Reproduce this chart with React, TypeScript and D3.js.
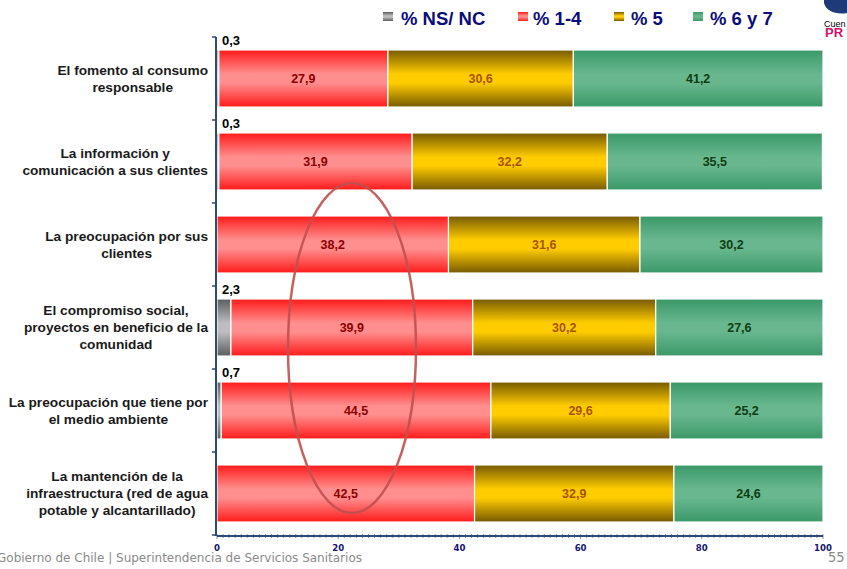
import React from "react";
import * as d3 from "d3";

const categories = [
  ["El fomento al consumo", "responsable"],
  ["La información y", "comunicación a sus clientes"],
  ["La preocupación por sus", "clientes"],
  ["El compromiso social,", "proyectos en beneficio de la", "comunidad"],
  ["La preocupación que tiene por", "el medio ambiente"],
  ["La mantención de la", "infraestructura (red de agua", "potable y alcantarillado)"],
];
const nsnc = [0.3, 0.3, 0, 2.3, 0.7, 0];
const r14 = [27.9, 31.9, 38.2, 39.9, 44.5, 42.5];
const r5 = [30.6, 32.2, 31.6, 30.2, 29.6, 32.9];
const r67 = [41.2, 35.5, 30.2, 27.6, 25.2, 24.6];
const xTicks = [0, 20, 40, 60, 80, 100];
const legendLabels = ["% NS/ NC", "% 1-4", "% 5", "% 6 y 7"];

const keys = ["ns", "a", "b", "c"];
const grads = [
  { id: "gGray", edge: "#5c5c5c", mid: "#bdbdbd" },
  { id: "gRed", edge: "#ff1a1a", mid: "#ff8e8e" },
  { id: "gYel", edge: "#765a00", mid: "#ffcc00" },
  { id: "gGrn", edge: "#3a9868", mid: "#68b78e" },
];
const labelColors = ["#000", "#8b0000", "#a85400", "#0f3d14"];

const fmt = (v: number) => v.toFixed(1).replace(".", ",");

const CAT_FONT = "bold 13.7px 'Liberation Sans', Arial, sans-serif";
function measure(s: string): number {
  try {
    const c = document.createElement("canvas").getContext("2d");
    if (c) {
      c.font = CAT_FONT;
      return c.measureText(s).width;
    }
  } catch (e) {}
  return s.length * 7.2;
}

export default function App() {
  const W = 847, H = 569;
  const ids = categories.map((_, i) => "c" + i);
  const axisY = 536;
  const x = d3.scaleLinear().domain([0, 100]).range([217, 823]);
  const y = d3.scaleBand<string>().domain(ids).range([37, 535]).paddingInner(0.313).paddingOuter(0.1565);
  const rows = ids.map((id, i) => ({ id, ns: nsnc[i], a: r14[i], b: r5[i], c: r67[i] }));
  const stacked = d3.stack<any>().keys(keys)(rows);
  const minor = d3.range(0, 101, 1);

  return (
    <div style={{ position: "absolute", left: 0, top: 0 }}>
      <svg width={W} height={H} style={{ display: "block", fontFamily: "'Liberation Sans', Arial, sans-serif" }}>
        <defs>
          {grads.map((g) => (
            <linearGradient key={g.id} id={g.id} x1="0" y1="0" x2="0" y2="1">
              <stop offset="0" stopColor={g.edge} />
              <stop offset="0.42" stopColor={g.mid} />
              <stop offset="0.58" stopColor={g.mid} />
              <stop offset="1" stopColor={g.edge} />
            </linearGradient>
          ))}
        </defs>
        <rect width={W} height={H} fill="#fff" />

        {/* Legend */}
        {(() => {
          const sq = [383, 518, 614, 693];
          const tx = [401, 533, 631, 710];
          return legendLabels.map((l, i) => (
            <g key={l}>
              <rect x={sq[i]} y={12} width={10} height={9} fill={`url(#${grads[i].id})`} />
              <text x={tx[i]} y={25} fontSize={18.5} fontWeight="bold" fill="#0c0c7a">{l}</text>
            </g>
          ));
        })()}

        {/* Logo fragment */}
        <path d="M824,0 L847,0 L847,13 C836,15 826,11 824,3 Z" fill="#1f3a78" />
        <text x={824} y={27} fontSize={9} fill="#000">Cuen</text>
        <text x={825} y={37} fontSize={13} fontWeight="bold" fill="#d0106a">PR</text>

        {/* Bars */}
        {stacked.map((s, si) => (
          <g key={s.key}>
            {s.map((d: any, i: number) => {
              const v = d[1] - d[0];
              if (v <= 0) return null;
              const id = ids[i];
              const x0 = x(d[0]), x1 = x(d[1]);
              return (
                <rect key={id} x={x0} y={y(id)!} width={Math.max(0, x1 - x0)} height={y.bandwidth()}
                  fill={`url(#${grads[si].id})`} stroke="#fff" strokeWidth={1.2} />
              );
            })}
          </g>
        ))}

        {/* Segment labels */}
        {stacked.map((s, si) => (
          <g key={"l" + s.key}>
            {s.map((d: any, i: number) => {
              const v = d[1] - d[0];
              if (v <= 0) return null;
              const id = ids[i];
              if (si === 0) {
                return (
                  <text key={id} x={222} y={y(id)! - 5} fontSize={13} fontWeight="bold" fill="#000">{fmt(v)}</text>
                );
              }
              return (
                <text key={id} x={(x(d[0]) + x(d[1])) / 2} y={y(id)! + y.bandwidth() / 2 + 4.5}
                  textAnchor="middle" fontSize={12.5} fontWeight="bold" fill={labelColors[si]}>{fmt(v)}</text>
              );
            })}
          </g>
        ))}

        {/* Category labels */}
        {categories.map((lines, i) => {
          const cy = y(ids[i])! + y.bandwidth() / 2;
          const lh = 17;
          const start = cy - ((lines.length - 1) * lh) / 2 + 4.5;
          const maxW = Math.max(...lines.map(measure));
          const cx = 208 - maxW / 2;
          return (
            <text key={i} textAnchor="middle" fontSize={13.7} fontWeight="bold" fill="#1a1a1a">
              {lines.map((ln, j) => (
                <tspan key={j} x={cx} y={start + j * lh}>{ln}</tspan>
              ))}
            </text>
          );
        })}

        {/* Left axis */}
        <line x1={216} x2={216} y1={37} y2={axisY} stroke="#2a4a78" strokeWidth={2} />
        {d3.range(0, 7).map((k) => {
          const yy = 37 + k * y.step();
          return <line key={k} x1={212} x2={216} y1={yy} y2={yy} stroke="#2a4a78" strokeWidth={1.5} />;
        })}

        {/* Bottom axis */}
        <line x1={x(0)} x2={x(100)} y1={axisY} y2={axisY} stroke="#2a4a78" strokeWidth={2} />
        {minor.map((t) => (
          <line key={t} x1={x(t)} x2={x(t)} y1={axisY - 2} y2={axisY + (t % 20 === 0 ? 3 : 2)}
            stroke="#2a4a78" strokeWidth={0.6} />
        ))}
        {xTicks.map((t) => (
          <text key={t} x={x(t)} y={axisY + 15} textAnchor="middle" fontSize={9.5} fontWeight="bold"
            fill="#141470" fontFamily="'Liberation Sans Narrow', 'DejaVu Sans Condensed', sans-serif">{t}</text>
        ))}

        {/* Ellipse highlight */}
        <ellipse cx={352} cy={348} rx={64} ry={165} fill="none" stroke="#c0504d" strokeWidth={2.5} opacity={0.9} />

        {/* Footer */}
        <text x={-3} y={562} fontSize={12} fill="#8a8a8a" fontFamily="'DejaVu Sans Condensed', 'DejaVu Sans', sans-serif"
          textLength={365} lengthAdjust="spacingAndGlyphs">Gobierno de Chile | Superintendencia de Servicios Sanitarios</text>
        <text x={828} y={562} fontSize={14.5} fill="#8a8a8a" fontFamily="'DejaVu Sans Condensed', sans-serif">55</text>
      </svg>
    </div>
  );
}
